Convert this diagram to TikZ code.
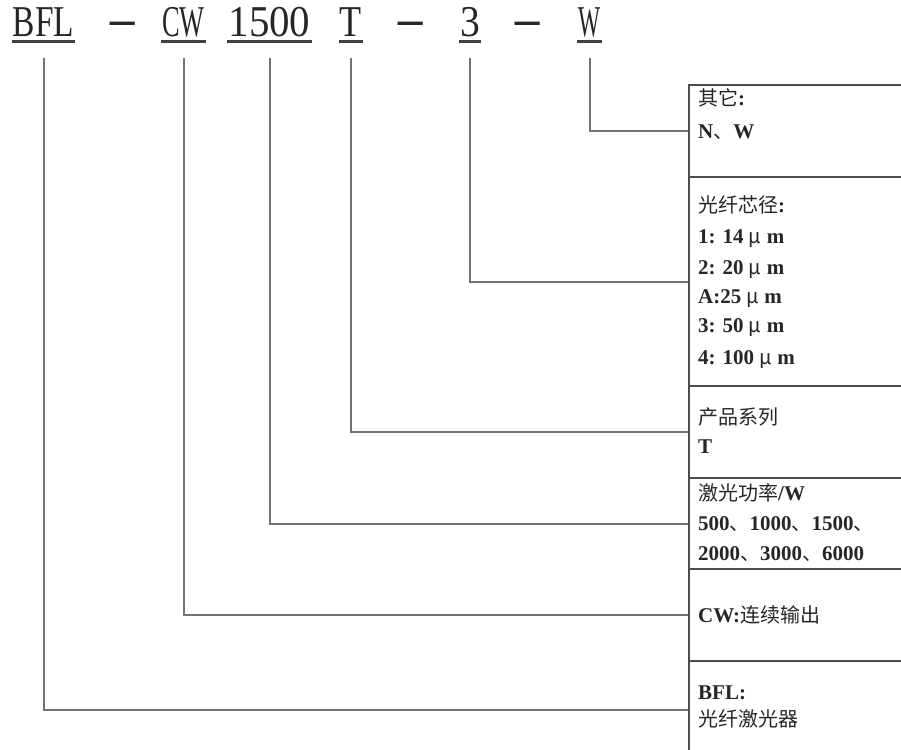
\documentclass[tikz,border=0pt]{standalone}
\usepackage{fontspec}
\setmainfont{Liberation Serif}
\newfontfamily\cjk{Noto Sans CJK SC}
\usepackage{graphicx}
\newcommand\cjkt[1]{{\cjk\mdseries\fontsize{20}{24}\selectfont #1}}
\tikzset{
  code/.style={inner sep=0pt, anchor=base, font=\fontsize{44}{48}\selectfont, text=black!85},
  dashmark/.style={inner sep=0pt, anchor=base, font=\cjk\bfseries\fontsize{30}{32}\selectfont, text=black!85},
  ul/.style={line width=2.4pt, draw=black!75},
  conn/.style={draw=black!55, line width=2pt},
  panel/.style={draw=black!70, line width=2pt, rectangle, inner sep=0pt, minimum width=222pt, anchor=north west},
  lbl/.style={anchor=west, inner sep=0pt, font=\fontsize{21}{24}\selectfont\bfseries, text=black!85, text height=14pt, text depth=4pt},
}
\begin{document}
\begin{tikzpicture}[x=1pt,y=-1pt]
\useasboundingbox (0,0) rectangle (901,749);
\clip (0,0) rectangle (901,749);
\fill[white] (0,0) rectangle (901,749);

% code line
\node[code] (bfl) at (43.5,37) {\scalebox{0.76}[1]{BFL}};
\node[dashmark] (d1) at (122.5,32.4) {\scalebox{1.03}[1]{—}};
\node[code] (cw) at (183.5,37) {\scalebox{0.6}[1]{CW}};
\node[code] (pw) at (269.5,37) {\scalebox{0.93}[1]{1500}};
\node[code] (ser) at (351,37) {\scalebox{0.82}[1]{T}};
\node[dashmark] (d2) at (411,32.4) {\scalebox{1.03}[1]{—}};
\node[code] (core) at (470,37) {\scalebox{0.9}[1]{3}};
\node[dashmark] (d3) at (528,32.4) {\scalebox{1.03}[1]{—}};
\node[code] (oth) at (589.5,37) {\scalebox{0.53}[1]{W}};

\foreach \n in {bfl,cw,pw,ser,core,oth}{
  \draw[ul] ([xshift=-1pt,yshift=-4.5pt]\n.base west) -- ([xshift=1pt,yshift=-4.5pt]\n.base east);
}

\coordinate (top) at (0,58);

% panels
\node[panel, minimum height=92] (pOth) at (688,84) {};
\node[panel, minimum height=209] (pCore) at (688,176) {};
\node[panel, minimum height=92] (pSer) at (688,385) {};
\node[panel, minimum height=91] (pPw) at (688,477) {};
\node[panel, minimum height=92] (pCw) at (688,568) {};
\node[panel, minimum height=97] (pBfl) at (688,660) {};

% connectors
\draw[conn] (oth |- top) |- (pOth.west);
\draw[conn] (core |- top) |- (pCore.west);
\draw[conn] (ser |- top) |- (pSer.west);
\draw[conn] (pw |- top) |- (pPw.west);
\draw[conn] (cw |- top) |- (pCw.west);
\draw[conn] (bfl |- top) |- (pBfl.west);

% labels
\node[lbl] (o1) at (698,100.5) {\cjkt{其它}:};
\node[lbl] (o2) at (698,133.5) {N\cjkt{、}W};

\node[lbl] (c1) at (698,207.5) {\cjkt{光纤芯径}:};
\node[lbl] (c2) at (698,238.5) {1: 14 \cjkt{μ} m};
\node[lbl] (c3) at (698,269.5) {2: 20 \cjkt{μ} m};
\node[lbl] (c4) at (698,298.5) {A:25 \cjkt{μ} m};
\node[lbl] (c5) at (698,327.5) {3: 50 \cjkt{μ} m};
\node[lbl] (c6) at (698,359.5) {4: 100 \cjkt{μ} m};

\node[lbl] (s1) at (698,419.5) {\cjkt{产品系列}};
\node[lbl] (s2) at (698,448.5) {T};

\node[lbl] (p1) at (698,495.5) {\cjkt{激光功率}/W};
\node[lbl] (p2) at (698,525.5) {500\cjkt{、}1000\cjkt{、}1500\cjkt{、}};
\node[lbl] (p3) at (698,555.5) {2000\cjkt{、}3000\cjkt{、}6000};

\node[lbl] (w1) at (698,617.5) {CW:\cjkt{连续输出}};

\node[lbl] (b1) at (698,694.5) {BFL:};
\node[lbl] (b2) at (698,721.5) {\cjkt{光纤激光器}};
\end{tikzpicture}
\end{document}
